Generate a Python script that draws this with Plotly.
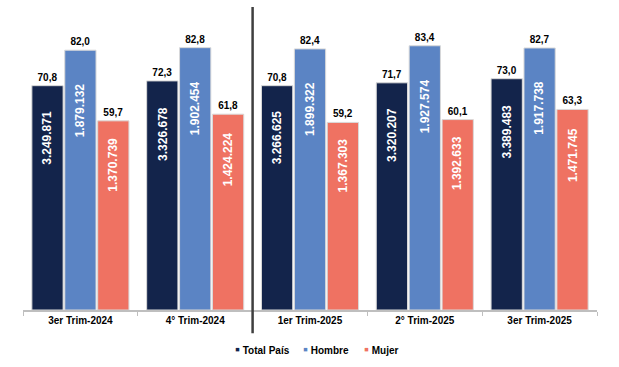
import plotly.graph_objects as go

categories = ["3er Trim-2024", "4° Trim-2024", "1er Trim-2025", "2° Trim-2025", "3er Trim-2025"]
series_names = ["Total País", "Hombre", "Mujer"]
rate_total = [70.8, 72.3, 70.8, 71.7, 73.0]
rate_hombre = [82.0, 82.8, 82.4, 83.4, 82.7]
rate_mujer = [59.7, 61.8, 59.2, 60.1, 63.3]
count_total = [3249871, 3326678, 3266625, 3320207, 3389483]
count_hombre = [1879132, 1902454, 1899322, 1927574, 1917738]
count_mujer = [1370739, 1424224, 1367303, 1392633, 1471745]

colors = ["#13244B", "#5B84C4", "#EF7262"]
rates = [rate_total, rate_hombre, rate_mujer]
counts = [count_total, count_hombre, count_mujer]

FONT = "Liberation Sans"

fig = go.Figure()
for name, r, c in zip(series_names, rates, colors):
    fig.add_trace(go.Bar(
        name=name, x=categories, y=r,
        marker=dict(color=c, line=dict(color="#D9D9D9", width=1)),
        text=r, texttemplate="%{y:.1f}", textposition="outside",
        textfont=dict(family=FONT, size=10, color="black", weight="bold"),
        cliponaxis=False, showlegend=False,
    ))

# vertical count labels inside bars
n = len(series_names)
bargap = 0.14
slot = (1 - bargap) / n
for si, (r, cnt) in enumerate(zip(rates, counts)):
    for ci, (rv, cv) in enumerate(zip(r, cnt)):
        xpos = ci - (1 - bargap) / 2 + slot * (si + 0.5)
        fig.add_annotation(
            x=xpos, y=rv * 0.77, xref="x", yref="y",
            text=f"{cv:,}".replace(",", "."), showarrow=False, textangle=-90,
            font=dict(family=FONT, size=12, color="white", weight="bold"),
        )

# legend (text entries with small coloured squares)
legend_x = [0.3665, 0.4845, 0.5905]
for name, c, lx in zip(series_names, colors, legend_x):
    fig.add_annotation(
        x=lx, y=-0.1296, xref="paper", yref="paper", xanchor="left", yanchor="middle",
        showarrow=False,
        text=f'<span style="color:{c};font-size:14px">▪</span> {name}',
        font=dict(family=FONT, size=10, color="black", weight="bold"),
    )

fig.add_shape(type="line", xref="x", yref="paper", x0=1.5, x1=1.5, y0=-0.077, y1=1.007,
              line=dict(color="#3F3F3F", width=2.5))

fig.update_layout(
    width=619, height=367,
    margin=dict(l=22.5, r=21.5, t=9, b=57),
    paper_bgcolor="white", plot_bgcolor="white",
    barmode="group", bargap=bargap, bargroupgap=0.05,
    separators=",.",
    showlegend=False,
    font=dict(family=FONT),
    xaxis=dict(type="category", showline=True, linecolor="#BFBFBF", linewidth=1.5,
               ticks="outside", tickson="boundaries", ticklen=4, tickcolor="#BFBFBF",
               tickfont=dict(family=FONT, size=10, color="black", weight="bold"),
               showgrid=False, range=[-0.5, 4.5]),
    yaxis=dict(range=[0, 95], visible=False, showgrid=False, zeroline=False),
)

fig.write_html("out.html", config={"displayModeBar": False},
               post_script="document.body.style.margin='0';")
